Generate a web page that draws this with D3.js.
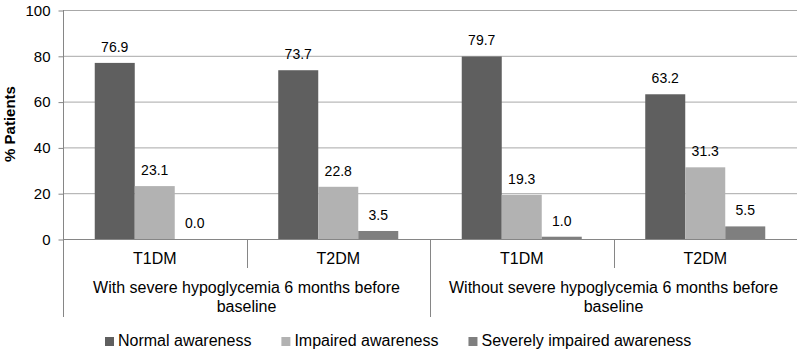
<!DOCTYPE html>
<html>
<head>
<meta charset="utf-8">
<script src="https://cdn.jsdelivr.net/npm/d3@7"></script>
<style>
  body { margin: 0; background: #fff; }
  svg { display: block; font-family: Arial, "Liberation Sans", sans-serif; }
</style>
</head>
<body>
<svg id="chart" width="797" height="352"></svg>
<script>
// chart data
const groups = ["With severe hypoglycemia 6 months before|baseline", "Without severe hypoglycemia 6 months before|baseline"];
const categories = ["T1DM", "T2DM", "T1DM", "T2DM"];
const seriesNames = ["Normal awareness", "Impaired awareness", "Severely impaired awareness"];
const normalAwareness = [76.9, 73.7, 79.7, 63.2];
const impairedAwareness = [23.1, 22.8, 19.3, 31.3];
const severelyImpaired = [0.0, 3.5, 1.0, 5.5];
const yTicks = [0, 20, 40, 60, 80, 100];
const colors = ["#5f5f5f", "#b2b2b2", "#7f7f7f"];

const seriesValues = [normalAwareness, impairedAwareness, severelyImpaired];

const svg = d3.select("#chart");
const plotLeft = 63, plotRight = 797, plotTop = 10, plotBottom = 239;

// scales
const x = d3.scaleBand().domain(d3.range(categories.length)).range([plotLeft, plotRight])
    .paddingInner(0.346).paddingOuter(0.173);
const xs = d3.scaleBand().domain(d3.range(seriesNames.length)).range([0, x.bandwidth()]);
const y = d3.scaleLinear().domain([0, 100]).range([plotBottom, plotTop]);

// gridlines
svg.append("g").selectAll("line")
    .data(yTicks.filter(d => d > 0))
    .enter().append("line")
    .attr("x1", plotLeft).attr("x2", plotRight)
    .attr("y1", d => y(d) + 0.5).attr("y2", d => y(d) + 0.5)
    .attr("stroke", "#a8a8a8").attr("stroke-width", 1);

// y axis
const yAxis = svg.append("g")
    .attr("transform", "translate(" + (plotLeft + 0.5) + ",0.5)")
    .call(d3.axisLeft(y).tickValues(yTicks).tickSize(5).tickSizeOuter(0).tickPadding(8));
yAxis.select(".domain").remove();
yAxis.selectAll(".tick line").attr("stroke", "#868686");
yAxis.selectAll(".tick text").attr("font-size", "15px").attr("fill", "#000")
    .attr("font-family", "Arial, 'Liberation Sans', sans-serif");

// bars
const catG = svg.append("g").selectAll("g")
    .data(categories.map((c, i) => i))
    .enter().append("g")
    .attr("transform", i => "translate(" + x(i) + ",0)");

catG.selectAll("rect")
    .data(i => seriesValues.map((vals, s) => ({ s: s, v: vals[i] })))
    .enter().append("rect")
    .attr("x", d => xs(d.s))
    .attr("y", d => y(d.v))
    .attr("width", xs.bandwidth())
    .attr("height", d => y(0) - y(d.v))
    .attr("fill", d => colors[d.s]);

catG.selectAll("text")
    .data(i => seriesValues.map((vals, s) => ({ s: s, v: vals[i] })))
    .enter().append("text")
    .attr("x", d => xs(d.s) + xs.bandwidth() / 2)
    .attr("y", d => y(d.v) - 11)
    .attr("text-anchor", "middle")
    .attr("font-size", "14px")
    .text(d => d.v.toFixed(1));

// axis lines
svg.append("line")
    .attr("x1", plotLeft + 0.5).attr("x2", plotLeft + 0.5)
    .attr("y1", plotTop).attr("y2", 317)
    .attr("stroke", "#868686");
svg.append("line")
    .attr("x1", plotLeft).attr("x2", plotRight)
    .attr("y1", plotBottom + 0.5).attr("y2", plotBottom + 0.5)
    .attr("stroke", "#868686");

// category separators
const step = x.step();
[1, 3].forEach(i => {
    const sx = Math.round(plotLeft + step * i) + 0.5;
    svg.append("line").attr("x1", sx).attr("x2", sx)
        .attr("y1", plotBottom).attr("y2", 268).attr("stroke", "#868686");
});
{
    const sx = Math.round(plotLeft + step * 2) + 0.5;
    svg.append("line").attr("x1", sx).attr("x2", sx)
        .attr("y1", plotBottom).attr("y2", 317).attr("stroke", "#868686");
}

// category labels
svg.append("g").selectAll("text")
    .data(categories)
    .enter().append("text")
    .attr("x", (d, i) => x(i) + x.bandwidth() / 2)
    .attr("y", 264)
    .attr("text-anchor", "middle")
    .attr("font-size", "16px")
    .text(d => d);

// group labels
groups.forEach((g, gi) => {
    const cx = plotLeft + step * (gi * 2 + 1);
    const lines = g.split("|");
    lines.forEach((ln, li) => {
        svg.append("text")
            .attr("x", cx).attr("y", 293 + li * 19)
            .attr("text-anchor", "middle")
            .attr("font-size", "16px")
            .text(ln);
    });
});

// y title
svg.append("text")
    .attr("transform", "translate(15,124) rotate(-90)")
    .attr("text-anchor", "middle")
    .attr("font-size", "15px")
    .attr("font-weight", "bold")
    .text("% Patients");

// legend
const legend = svg.append("g");
let lx = 105;
seriesNames.forEach((name, i) => {
    legend.append("rect")
        .attr("x", lx).attr("y", 337)
        .attr("width", 9).attr("height", 9)
        .attr("fill", colors[i]);
    const t = legend.append("text")
        .attr("x", lx + 13).attr("y", 346)
        .attr("font-size", "16px")
        .text(name);
    lx += 13 + t.node().getComputedTextLength() + 30;
});
</script>
</body>
</html>
